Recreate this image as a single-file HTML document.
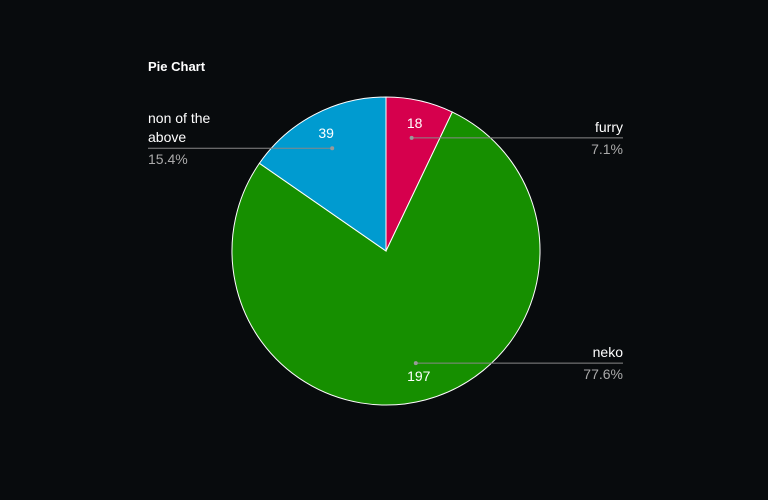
<!DOCTYPE html>
<html><head><meta charset="utf-8"><style>
html,body{margin:0;padding:0;background:#080b0d;}
svg{display:block;font-family:"Liberation Sans",Arial,sans-serif;}
</style></head><body>
<svg id="c" width="768" height="500">
<rect width="768" height="500" fill="#080b0d"/>
<text x="148" y="71" fill="#fff" font-size="13" font-weight="bold">Pie Chart</text>
<g id="slices"></g><g id="labels"></g>
</svg>
<script>
const categories=["furry","neko","non of the above"];
const values=[18,197,39];
const colors=["#d6004d","#168f00","#009bd0"];
const cx=386,cy=251,R=154;
const NS="http://www.w3.org/2000/svg";
const total=values.reduce((a,b)=>a+b,0);
function pt(a,r){return [cx+r*Math.sin(a),cy-r*Math.cos(a)];}
function mk(tag,attrs,parent){const e=document.createElementNS(NS,tag);for(const k in attrs)e.setAttribute(k,attrs[k]);parent.appendChild(e);return e;}
const sg=document.getElementById('slices'),lg=document.getElementById('labels');
let acc=0;
values.forEach((v,i)=>{
 const a0=acc/total*2*Math.PI;acc+=v;const a1=acc/total*2*Math.PI;
 const p0=pt(a0,R),p1=pt(a1,R);const large=(a1-a0)>Math.PI?1:0;
 const p=mk('path',{d:`M${cx},${cy}L${p0[0]},${p0[1]}A${R},${R} 0 ${large} 1 ${p1[0]},${p1[1]}Z`,fill:colors[i],stroke:"#fff","stroke-width":1},sg);
 
 
 const am=(a0+a1)/2;const d=pt(am,116);
 const right=Math.sin(am)>=0;
 const lx=right?623:148;
 const top=Math.cos(am)>0;
 const ly=d[1];
 const ln=mk('line',{x1:d[0],y1:ly,x2:lx,y2:ly,stroke:"#888","stroke-width":1},lg);
 
 
 const dot=mk('circle',{cx:d[0],cy:d[1],r:2,fill:"#999"},lg);
 
 
 const vt=mk('text',{x:d[0]+(right?3:-6),y:top?d[1]-10:d[1]+18,fill:"#fff","font-size":14,"text-anchor":"middle"},lg);
 vt.textContent=v;
 
 
 const anchor=right?"end":"start";
 const lines=categories[i].length>12?["non of the","above"]:[categories[i]];
 lines.forEach((s,j)=>{
  const t=mk('text',{x:lx,y:ly-6-(lines.length-1-j)*19,fill:"#fff","font-size":14,"text-anchor":anchor},lg);
  t.textContent=s;
  
  
 });
 const pc=mk('text',{x:lx,y:ly+16,fill:"#aaa","font-size":14,"text-anchor":anchor},lg);
 pc.textContent=(v/total*100).toFixed(1)+"%";
 
 
});
</script>
</body></html>
